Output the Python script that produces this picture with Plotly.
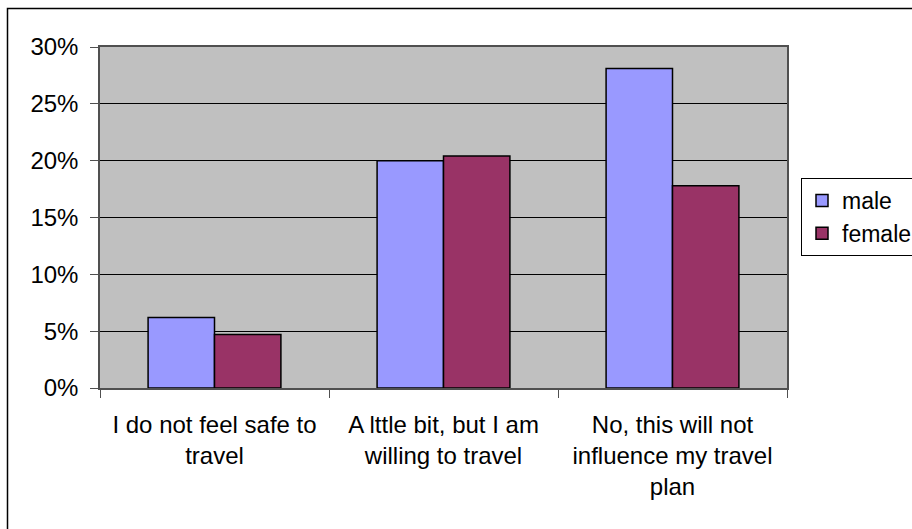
import plotly.graph_objects as go

# Survey answers and the share of respondents per gender
categories = [
    "I do not feel safe to<br>travel",
    "A lttle bit, but I am<br>willing to travel",
    "No, this will not<br>influence my travel<br>plan",
]
male = [0.062, 0.200, 0.281]
female = [0.047, 0.204, 0.178]

y_ticks = [0.0, 0.05, 0.10, 0.15, 0.20, 0.25, 0.30]

FONT = dict(family="Liberation Sans, Arial, sans-serif", size=24, color="black")
LEGEND_FONT = dict(family="Liberation Sans, Arial, sans-serif", size=23, color="black")

fig = go.Figure()
fig.add_trace(go.Bar(
    x=categories, y=male, name="male",
    marker=dict(color="#9999FF", line=dict(color="black", width=1.5)),
))
fig.add_trace(go.Bar(
    x=categories, y=female, name="female",
    marker=dict(color="#993366", line=dict(color="black", width=1.5)),
))

# Plot-area geometry in pixels, used to place the outer frame and legend
L, R, T, B = 100, 787, 47, 388
W, H = 912, 529

def px_x(v):
    return (v - L) / (R - L)

def px_y(v):
    return (B - v) / (B - T)

fig.update_layout(
    width=W, height=H,
    margin=dict(l=L, r=W - R, t=T, b=H - B, autoexpand=False),
    paper_bgcolor="white",
    plot_bgcolor="#C0C0C0",
    font=FONT,
    barmode="group",
    bargap=0.42,
    bargroupgap=0.0,
    showlegend=True,
    legend=dict(
        x=px_x(801), y=px_y(178), xanchor="left", yanchor="top",
        bgcolor="white", bordercolor="black", borderwidth=1,
        font=LEGEND_FONT, traceorder="normal",
    ),
    shapes=[
        dict(type="rect", xref="paper", yref="paper",
             x0=px_x(7.5), x1=px_x(930), y0=px_y(540), y1=px_y(8.5),
             line=dict(color="black", width=1.5), fillcolor="rgba(0,0,0,0)",
             layer="below"),
    ],
)

fig.update_yaxes(
    range=[0, 0.30], tickvals=y_ticks, tickformat=".0%",
    showgrid=True, gridcolor="black", gridwidth=1,
    showline=True, linecolor="#505050", linewidth=1.5, mirror=True,
    ticks="outside", ticklen=8, tickcolor="#505050", tickwidth=1,
    ticklabelstandoff=7, zeroline=False, tickfont=FONT,
)
fig.update_xaxes(
    showline=True, linecolor="#505050", linewidth=1.5, mirror=True,
    ticks="outside", ticklen=8, tickcolor="#505050", tickwidth=1,
    tickson="boundaries", showgrid=False, tickfont=FONT, tickangle=0,
    ticklabelstandoff=14,
)

fig.write_html("out.html")
